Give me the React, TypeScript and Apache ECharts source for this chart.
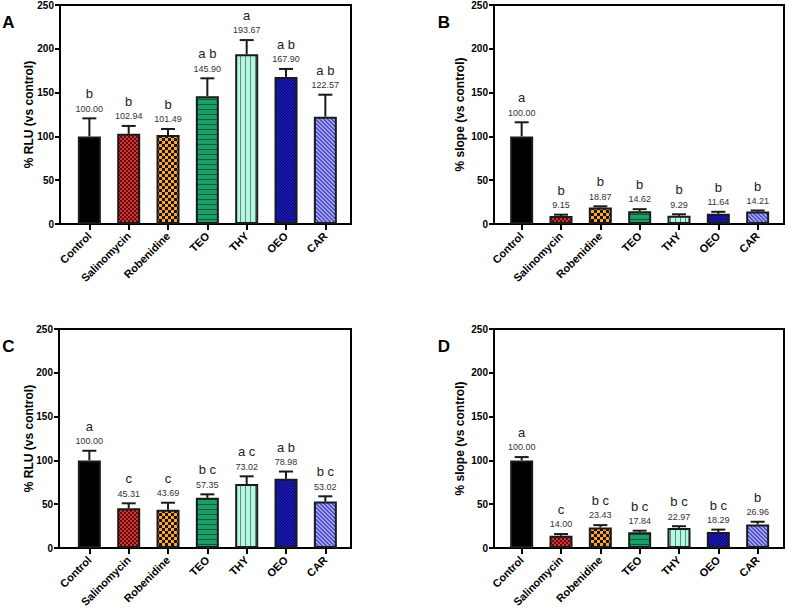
import React, { useEffect, useRef } from "react";
import * as echarts from "echarts";

// Treatments shown along every x axis
const categories = ["Control", "Salinomycin", "Robenidine", "TEO", "THY", "OEO", "CAR"];
const yTicks = [0, 50, 100, 150, 200, 250];

// Panel A: luminescence
const rluA = [100.0, 102.94, 101.49, 145.9, 193.67, 167.9, 122.57];
const rluAErr = [20.6, 9.0, 7.0, 20.4, 16.3, 9.1, 25.0];
const rluAGroups = ["b", "b", "b", "a b", "a", "a b", "a b"];

// Panel B: slope
const slopeB = [100.0, 9.15, 18.87, 14.62, 9.29, 11.64, 14.21];
const slopeBErr = [16.1, 1.5, 1.3, 2.3, 1.8, 2.3, 1.2];
const slopeBGroups = ["a", "b", "b", "b", "b", "b", "b"];

// Panel C: luminescence
const rluC = [100.0, 45.31, 43.69, 57.35, 73.02, 78.98, 53.02];
const rluCErr = [11.0, 5.7, 8.0, 3.9, 8.8, 8.3, 6.0];
const rluCGroups = ["a", "c", "c", "b c", "a c", "a b", "b c"];

// Panel D: slope
const slopeD = [100.0, 14.0, 23.43, 17.84, 22.97, 18.29, 26.96];
const slopeDErr = [3.8, 1.9, 2.7, 1.9, 1.9, 2.7, 3.0];
const slopeDGroups = ["a", "c", "b c", "b c", "b c", "b c", "b"];

const FONT = "'Liberation Sans', Arial, sans-serif";

function tile(w: number, h: number, bg: string, fg: string, on: (x: number, y: number) => boolean) {
  const c = document.createElement("canvas");
  c.width = w;
  c.height = h;
  const ctx = c.getContext("2d")!;
  ctx.fillStyle = bg;
  ctx.fillRect(0, 0, w, h);
  ctx.fillStyle = fg;
  for (let y = 0; y < h; y++) {
    for (let x = 0; x < w; x++) {
      if (on(x, y)) ctx.fillRect(x, y, 1, 1);
    }
  }
  return { image: c, repeat: "repeat", imageWidth: w, imageHeight: h } as any;
}

function barFills(): any[] {
  return [
    "#000000",
    tile(4, 4, "#d33333", "#5e0e0e", (x, y) => ((x >> 1) + (y >> 1)) % 2 === 0),
    tile(6, 6, "#f7a63c", "#1a1208", (x, y) => (Math.floor(x / 3) + Math.floor(y / 3)) % 2 === 0),
    tile(1, 5, "#1c9e68", "#0b5c3a", (_x, y) => y === 4),
    tile(5, 1, "#b6f7e0", "#5a8f80", (x) => x === 0),
    tile(3, 3, "#1a1ac4", "#06064a", (x, y) => (x + y) % 3 === 0),
    tile(4, 4, "#a2a2f5", "#5252c4", (x, y) => (x - y + 8) % 4 < 2),
  ];
}

type Panel = {
  letter: string;
  yName: string;
  values: number[];
  errs: number[];
  groups: string[];
  frameLeft: number;
  frameWidth: number;
  barLeft: number;
  top: number;
  nameX: number;
  letterX: number;
};

const BAND = 39.33;
const HEIGHT = 219;

const panels: Panel[] = [
  { letter: "A", yName: "% RLU (vs control)", values: rluA, errs: rluAErr, groups: rluAGroups, frameLeft: 60, frameWidth: 291, barLeft: 69.7, top: 5, nameX: 29, letterX: 8.5 },
  { letter: "B", yName: "% slope (vs control)", values: slopeB, errs: slopeBErr, groups: slopeBGroups, frameLeft: 494, frameWidth: 290, barLeft: 502, top: 5, nameX: 459.7, letterX: 444 },
  { letter: "C", yName: "% RLU (vs control)", values: rluC, errs: rluCErr, groups: rluCGroups, frameLeft: 59, frameWidth: 292, barLeft: 69.7, top: 329, nameX: 29, letterX: 8.5 },
  { letter: "D", yName: "% slope (vs control)", values: slopeD, errs: slopeDErr, groups: slopeDGroups, frameLeft: 494, frameWidth: 290, barLeft: 502, top: 329, nameX: 459.7, letterX: 444 },
];

function buildOption() {
  const grid: any[] = [];
  const xAxis: any[] = [];
  const yAxis: any[] = [];
  const series: any[] = [];
  const graphic: any[] = [];

  panels.forEach((p, k) => {
    const frameIdx = k * 2;
    const barIdx = k * 2 + 1;

    grid.push({
      left: p.frameLeft,
      top: p.top,
      width: p.frameWidth,
      height: HEIGHT,
      show: true,
      borderColor: "#000",
      borderWidth: 2,
      backgroundColor: "transparent",
    });
    grid.push({ left: p.barLeft, top: p.top, width: BAND * 7, height: HEIGHT });

    xAxis.push({ gridIndex: frameIdx, type: "value", show: false, min: 0, max: 1 });
    yAxis.push({
      gridIndex: frameIdx,
      type: "value",
      min: yTicks[0],
      max: yTicks[yTicks.length - 1],
      interval: yTicks[1] - yTicks[0],
      axisLine: { show: true, lineStyle: { color: "#000", width: 2 } },
      axisTick: { show: true, length: 5, lineStyle: { color: "#000", width: 2 } },
      axisLabel: { margin: 6, color: "#000", fontWeight: "bold", fontSize: 10, fontFamily: FONT },
      splitLine: { show: false },
    });

    xAxis.push({
      gridIndex: barIdx,
      type: "category",
      data: categories,
      axisLine: { show: false },
      axisTick: { show: true, alignWithLabel: true, length: 6, lineStyle: { color: "#000", width: 2 } },
      axisLabel: {
        interval: 0,
        rotate: 45,
        margin: 10,
        color: "#000",
        fontWeight: "bold",
        fontSize: 11,
        fontFamily: FONT,
      },
    });
    yAxis.push({
      gridIndex: barIdx,
      type: "value",
      min: yTicks[0],
      max: yTicks[yTicks.length - 1],
      show: false,
    });

    const fills = barFills();
    series.push({
      type: "bar",
      xAxisIndex: barIdx,
      yAxisIndex: barIdx,
      barWidth: 23,
      data: p.values.map((v, i) => ({
        value: v,
        itemStyle: { color: fills[i], borderColor: "#1a1a1a", borderWidth: 2 },
      })),
      z: 3,
    });

    const values = p.values;
    const groups = p.groups;
    series.push({
      type: "custom",
      xAxisIndex: barIdx,
      yAxisIndex: barIdx,
      data: values.map((v, i) => [i, v, v + p.errs[i]]),
      z: 5,
      renderItem: (params: any, api: any) => {
        const idx = params.dataIndex;
        const base = api.coord([api.value(0), api.value(1)]);
        const cap = api.coord([api.value(0), api.value(2)]);
        return {
          type: "group",
          children: [
            { type: "line", shape: { x1: cap[0], y1: base[1], x2: cap[0], y2: cap[1] }, style: { stroke: "#1a1a1a", lineWidth: 2 } },
            { type: "line", shape: { x1: cap[0] - 7, y1: cap[1], x2: cap[0] + 7, y2: cap[1] }, style: { stroke: "#1a1a1a", lineWidth: 2 } },
            {
              type: "text",
              x: cap[0],
              y: cap[1] - 9.7,
              style: { text: values[idx].toFixed(2), fontSize: 9, fontFamily: FONT, fill: "#333", align: "center", verticalAlign: "middle" },
            },
            {
              type: "text",
              x: cap[0],
              y: cap[1] - 24.5,
              style: { text: groups[idx], fontSize: 13, fontFamily: FONT, fill: "#222", align: "center", verticalAlign: "middle" },
            },
          ],
        };
      },
    });

    graphic.push({
      type: "text",
      x: p.nameX,
      y: p.top + HEIGHT / 2,
      rotation: Math.PI / 2,
      style: { text: p.yName, fontSize: 12, fontWeight: "bold", fontFamily: FONT, fill: "#000", align: "center", verticalAlign: "middle" },
    });
    graphic.push({
      type: "text",
      x: p.letterX,
      y: p.top + 17,
      style: { text: p.letter, fontSize: 17, fontWeight: "bold", fontFamily: FONT, fill: "#000", align: "center", verticalAlign: "middle" },
    });
  });

  return {
    animation: false,
    backgroundColor: "#fff",
    grid,
    xAxis,
    yAxis,
    series,
    graphic,
  };
}

export default function App() {
  const ref = useRef<HTMLDivElement>(null);
  useEffect(() => {
    if (!ref.current) return;
    const chart = echarts.init(ref.current, undefined, { renderer: "svg" });
    chart.setOption(buildOption() as any);
    return () => chart.dispose();
  }, []);
  return <div ref={ref} style={{ position: "fixed", left: 0, top: 0, width: 788, height: 612 }} />;
}
